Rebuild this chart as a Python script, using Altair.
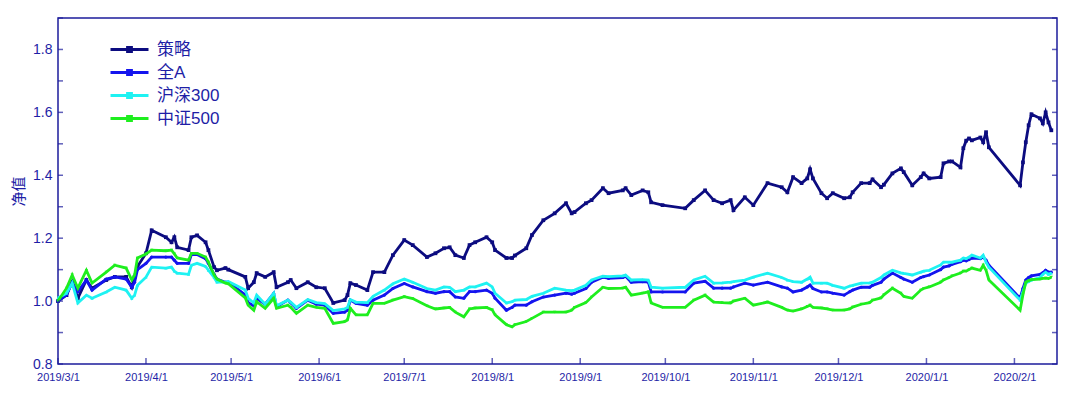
import altair as alt
import pandas as pd

# ---------------- data ----------------
dates = [
    # 2019-03
    "2019-03-01", "2019-03-04", "2019-03-06", "2019-03-08", "2019-03-11", "2019-03-13",
    "2019-03-18", "2019-03-21", "2019-03-25", "2019-03-27", "2019-03-28", "2019-03-29",
    # 2019-04
    "2019-04-01", "2019-04-03", "2019-04-08", "2019-04-10", "2019-04-11", "2019-04-12",
    "2019-04-16", "2019-04-17", "2019-04-19", "2019-04-22", "2019-04-23", "2019-04-25",
    "2019-04-26", "2019-04-29", "2019-04-30",
    # 2019-05
    "2019-05-06", "2019-05-07", "2019-05-09", "2019-05-10", "2019-05-13", "2019-05-16",
    "2019-05-17", "2019-05-21", "2019-05-22", "2019-05-24", "2019-05-28", "2019-05-31",
    # 2019-06
    "2019-06-03", "2019-06-06", "2019-06-10", "2019-06-11", "2019-06-12", "2019-06-14",
    "2019-06-18", "2019-06-20", "2019-06-24", "2019-06-27",
    # 2019-07
    "2019-07-01", "2019-07-04", "2019-07-09", "2019-07-12", "2019-07-15", "2019-07-17",
    "2019-07-19", "2019-07-22", "2019-07-24", "2019-07-26", "2019-07-30",
    # 2019-08
    "2019-08-01", "2019-08-02", "2019-08-06", "2019-08-08", "2019-08-09", "2019-08-13",
    "2019-08-15", "2019-08-19", "2019-08-23", "2019-08-27", "2019-08-29", "2019-08-30",
    # 2019-09
    "2019-09-03", "2019-09-05", "2019-09-09", "2019-09-11", "2019-09-16", "2019-09-17",
    "2019-09-19", "2019-09-23", "2019-09-25", "2019-09-26", "2019-09-30",
    # 2019-10
    "2019-10-08", "2019-10-11", "2019-10-15", "2019-10-18", "2019-10-21", "2019-10-24",
    "2019-10-25", "2019-10-29",
    # 2019-11
    "2019-11-01", "2019-11-06", "2019-11-11", "2019-11-13", "2019-11-15", "2019-11-18",
    "2019-11-20", "2019-11-21", "2019-11-22", "2019-11-25", "2019-11-27", "2019-11-29",
    # 2019-12
    "2019-12-03", "2019-12-05", "2019-12-06", "2019-12-09", "2019-12-12", "2019-12-13",
    "2019-12-16", "2019-12-17", "2019-12-20", "2019-12-23", "2019-12-24", "2019-12-27",
    "2019-12-30", "2019-12-31",
    # 2020-01
    "2020-01-02", "2020-01-06", "2020-01-07", "2020-01-09", "2020-01-10", "2020-01-13",
    "2020-01-14", "2020-01-15", "2020-01-16", "2020-01-17", "2020-01-20", "2020-01-21",
    "2020-01-22", "2020-01-23",
    # 2020-02
    "2020-02-03", "2020-02-04", "2020-02-05", "2020-02-06", "2020-02-07", "2020-02-10",
    "2020-02-11", "2020-02-12", "2020-02-13", "2020-02-14",
]

strategy = [
    1.000, 1.019, 1.061, 1.009, 1.067, 1.041, 1.067, 1.077, 1.077, 1.044, 1.077, 1.110,
    1.152, 1.225, 1.203, 1.187, 1.203, 1.171, 1.162, 1.203, 1.209, 1.187, 1.162, 1.108,
    1.098, 1.105, 1.100,
    1.077, 1.041, 1.060, 1.089, 1.077, 1.092, 1.044, 1.060, 1.067, 1.041, 1.060, 1.044,
    1.041, 0.994, 1.003, 1.019, 1.057, 1.051, 1.035, 1.092, 1.092, 1.146,
    1.194, 1.178, 1.140, 1.152, 1.168, 1.171, 1.146, 1.137, 1.178, 1.187, 1.203,
    1.187, 1.162, 1.137, 1.137, 1.145, 1.168, 1.210, 1.257, 1.279, 1.311, 1.279, 1.283,
    1.311, 1.321, 1.359, 1.343, 1.352, 1.359, 1.337, 1.352, 1.346, 1.314, 1.305,
    1.295, 1.321, 1.352, 1.321, 1.311, 1.321, 1.289, 1.330,
    1.305, 1.375, 1.362, 1.346, 1.394, 1.375, 1.390, 1.419, 1.390, 1.343, 1.327, 1.343,
    1.327, 1.330, 1.346, 1.375, 1.375, 1.387, 1.362, 1.370, 1.406, 1.422, 1.410, 1.368,
    1.394, 1.406,
    1.390, 1.394, 1.438, 1.444, 1.444, 1.425, 1.486, 1.510, 1.517, 1.511, 1.520, 1.505,
    1.537, 1.489,
    1.368, 1.441, 1.505, 1.559, 1.594, 1.581, 1.565, 1.600, 1.568, 1.543,
]

all_a = [
    1.000, 1.020, 1.060, 1.030, 1.067, 1.035, 1.070, 1.077, 1.070, 1.044, 1.060, 1.100,
    1.120, 1.140, 1.140, 1.140, 1.130, 1.120, 1.120, 1.148, 1.148, 1.135, 1.120, 1.085,
    1.070, 1.060, 1.060,
    1.020, 0.995, 0.985, 1.009, 0.990, 1.024, 0.982, 1.003, 0.995, 0.977, 1.003, 0.990,
    0.987, 0.961, 0.965, 0.971, 1.003, 0.993, 0.987, 1.003, 1.019, 1.040,
    1.056, 1.045, 1.030, 1.025, 1.030, 1.030, 1.013, 1.009, 1.030, 1.030, 1.035,
    1.025, 1.009, 0.971, 0.980, 0.987, 0.987, 0.998, 1.013, 1.019, 1.025, 1.022, 1.025,
    1.040, 1.060, 1.076, 1.072, 1.075, 1.079, 1.060, 1.062, 1.060, 1.029, 1.029,
    1.029, 1.057, 1.063, 1.041, 1.041, 1.041, 1.045, 1.057,
    1.051, 1.060, 1.045, 1.041, 1.029, 1.035, 1.045, 1.051, 1.040, 1.029, 1.029, 1.025,
    1.019, 1.030, 1.035, 1.044, 1.044, 1.050, 1.060, 1.070, 1.089, 1.075, 1.070, 1.060,
    1.075, 1.078,
    1.083, 1.100, 1.108, 1.112, 1.117, 1.125, 1.130, 1.128, 1.132, 1.137, 1.135, 1.140,
    1.130, 1.114,
    1.009, 1.040, 1.067, 1.075, 1.080, 1.085, 1.090, 1.098, 1.092, 1.092,
]

hs300 = [
    1.010, 1.025, 1.057, 0.994, 1.019, 1.009, 1.029, 1.044, 1.035, 1.009, 1.019, 1.050,
    1.076, 1.108, 1.105, 1.108, 1.095, 1.089, 1.085, 1.114, 1.120, 1.110, 1.098, 1.075,
    1.060, 1.060, 1.062,
    1.035, 1.009, 0.994, 1.019, 0.990, 1.025, 0.985, 1.003, 0.997, 0.980, 1.005, 0.995,
    0.992, 0.970, 0.975, 0.980, 1.005, 0.997, 0.995, 1.015, 1.035, 1.055,
    1.070, 1.060, 1.040, 1.035, 1.045, 1.044, 1.030, 1.035, 1.045, 1.045, 1.057,
    1.045, 1.025, 0.994, 0.998, 1.003, 1.005, 1.015, 1.025, 1.041, 1.035, 1.033, 1.035,
    1.050, 1.067, 1.079, 1.078, 1.080, 1.083, 1.067, 1.068, 1.067, 1.044, 1.041,
    1.044, 1.067, 1.079, 1.057, 1.058, 1.060, 1.062, 1.067,
    1.076, 1.089, 1.075, 1.067, 1.062, 1.060, 1.070, 1.076, 1.057, 1.057, 1.057, 1.050,
    1.041, 1.048, 1.050, 1.057, 1.058, 1.060, 1.075, 1.083, 1.098, 1.090, 1.088, 1.083,
    1.092, 1.095,
    1.098, 1.115, 1.124, 1.124, 1.124, 1.130, 1.137, 1.135, 1.140, 1.146, 1.137, 1.146,
    1.124, 1.108,
    1.003, 1.030, 1.057, 1.062, 1.067, 1.075, 1.085, 1.092, 1.085, 1.089,
]

zz500 = [
    1.000, 1.041, 1.083, 1.041, 1.098, 1.057, 1.092, 1.114, 1.105, 1.067, 1.083, 1.137,
    1.150, 1.162, 1.160, 1.162, 1.150, 1.137, 1.130, 1.152, 1.152, 1.140, 1.124, 1.083,
    1.070, 1.057, 1.055,
    1.010, 0.987, 0.971, 0.998, 0.977, 1.009, 0.977, 0.987, 0.980, 0.961, 0.987, 0.980,
    0.977, 0.929, 0.935, 0.940, 0.977, 0.956, 0.956, 0.993, 0.993, 1.003,
    1.014, 1.008, 0.985, 0.975, 0.978, 0.980, 0.965, 0.950, 0.975, 0.978, 0.980,
    0.972, 0.956, 0.925, 0.918, 0.925, 0.935, 0.945, 0.965, 0.965, 0.965, 0.971, 0.980,
    0.995, 1.013, 1.044, 1.040, 1.041, 1.044, 1.019, 1.025, 1.029, 0.994, 0.980,
    0.980, 1.003, 1.019, 0.997, 0.995, 0.994, 1.000, 1.009,
    0.987, 0.997, 0.980, 0.971, 0.968, 0.975, 0.983, 0.987, 0.980, 0.978, 0.975, 0.971,
    0.971, 0.975, 0.981, 0.990, 0.995, 1.003, 1.010, 1.020, 1.041, 1.025, 1.015, 1.009,
    1.035, 1.040,
    1.045, 1.060, 1.067, 1.075, 1.080, 1.089, 1.095, 1.095, 1.100, 1.105, 1.098, 1.114,
    1.098, 1.067,
    0.971, 1.020, 1.060, 1.065, 1.068, 1.070, 1.072, 1.073, 1.072, 1.076,
]

series_names = ["策略", "全A", "沪深300", "中证500"]
series_colors = ["#0c0c80", "#1414ee", "#1ef2f2", "#1eee1e"]
series_shapes = ["square", "circle", "triangle-up", "triangle-down"]

y_label_values = [0.8, 1.0, 1.2, 1.4, 1.6, 1.8]
y_tick_values = [0.8, 0.9, 1.0, 1.1, 1.2, 1.3, 1.4, 1.5, 1.6, 1.7, 1.8, 1.9]
x_tick_dates = ["2019-03-01", "2019-04-01", "2019-05-01", "2019-06-01", "2019-07-01",
                "2019-08-01", "2019-09-01", "2019-10-01", "2019-11-01", "2019-12-01",
                "2020-01-01", "2020-02-01"]

assert len(dates) == len(strategy) == len(all_a) == len(hs300) == len(zz500)

rows = []
for name, vals in zip(series_names, [strategy, all_a, hs300, zz500]):
    for d, v in zip(dates, vals):
        rows.append({"date": d, "value": v, "series": name})
df = pd.DataFrame(rows)

# ---------------- styling ----------------
W, H = 999, 346
AXIS = "#1c1c9c"
TEXT = "#1e1ea6"
LATIN = "Liberation Sans, Noto Sans CJK SC"
CJK = "Noto Sans CJK SC"


def dt(s):
    y, m, d = (int(p) for p in s.split("-"))
    return alt.DateTime(year=y, month=m, date=d, utc=True)


x_enc = alt.X(
    "date:T",
    scale=alt.Scale(type="utc", domain=[dt("2019-03-01"), dt("2020-02-16")]),
    axis=alt.Axis(values=[dt(s) for s in x_tick_dates], format="%Y/%-m/%-d",
                  ticks=False, domain=False, grid=False, labelPadding=7,
                  labelFontSize=11, labelFlush=False, labelOverlap=False,
                  labelBound=False, title=None),
)
y_enc = alt.Y(
    "value:Q",
    scale=alt.Scale(domain=[0.8, 1.9], nice=False, zero=False),
    axis=alt.Axis(values=y_label_values, format=".1f", ticks=False, domain=False,
                  grid=False, labelPadding=6, labelFontSize=14, title="净值",
                  titleFont=CJK, titleFontSize=15, titleFontWeight="normal",
                  titlePadding=6, labelFlush=False),
)

legend = alt.Legend(
    title=None, orient="none", legendX=51, legendY=23, padding=0,
    symbolType="M-1,0H1M-0.1,-0.1H0.1V0.1H-0.1Z", symbolSize=1444,
    symbolStrokeWidth=3, clipHeight=17, rowPadding=5, labelOffset=7,
    labelFontSize=17, labelFont=LATIN, labelColor=TEXT,
)
color_enc = alt.Color("series:N",
                      scale=alt.Scale(domain=series_names, range=series_colors),
                      sort=series_names, legend=legend)

base = alt.Chart(df)
layers = []
for name, shape, msize in zip(series_names, series_shapes, [14, 10, 10, 10]):
    sel = base.transform_filter(alt.datum.series == name)
    layers.append(sel.mark_line(strokeWidth=2.8).encode(x=x_enc, y=y_enc, color=color_enc))
    layers.append(sel.mark_point(filled=True, shape=shape, size=msize, opacity=1)
                  .encode(x=x_enc, y=y_enc, color=color_enc))

ytick_df = pd.DataFrame({"value": y_tick_values})
xtick_df = pd.DataFrame({"date": x_tick_dates})
left_ticks = alt.Chart(ytick_df).mark_tick(orient="horizontal", size=5, thickness=1.5,
                                           color=AXIS).encode(y="value:Q", x=alt.value(2.5))
right_ticks = alt.Chart(ytick_df).mark_tick(orient="horizontal", size=5, thickness=1.5,
                                            color=AXIS).encode(y="value:Q", x=alt.value(W - 2.5))
bottom_ticks = alt.Chart(xtick_df).mark_tick(orient="vertical", size=6, thickness=1.5,
                                             color=AXIS).encode(x="date:T", y=alt.value(H - 3))

chart = (
    alt.layer(*layers, left_ticks, right_ticks, bottom_ticks)
    .properties(width=W, height=H,
                padding={"left": 50, "top": 10, "right": 2, "bottom": 22},
                autosize=alt.AutoSizeParams(type="none"),
                background="white")
    .configure_view(stroke=AXIS, strokeWidth=1.5)
    .configure_axis(labelColor=TEXT, labelFont=LATIN, titleColor=TEXT)
)

chart.save("out.html", embed_options={"renderer": "svg", "actions": False})
